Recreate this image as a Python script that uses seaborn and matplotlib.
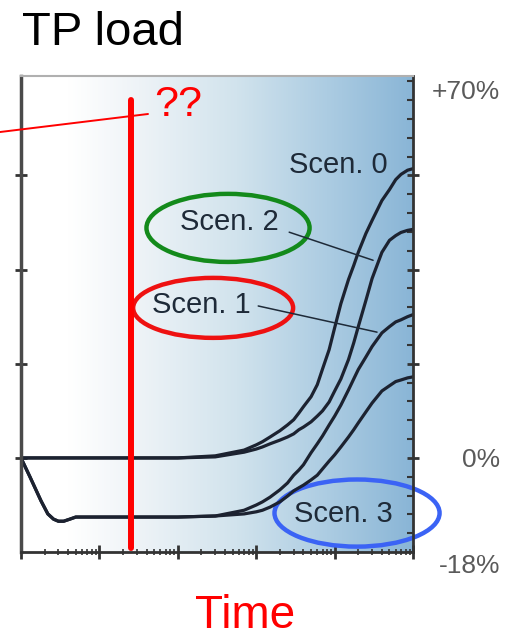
import numpy as np
import pandas as pd
import seaborn as sns
import matplotlib.pyplot as plt
from matplotlib.patches import Ellipse
from matplotlib.lines import Line2D
from matplotlib.colors import LinearSegmentedColormap
from matplotlib.ticker import LogLocator, MultipleLocator, NullFormatter

sns.set_style("ticks")
plt.rcParams['font.family'] = ['Liberation Sans', 'DejaVu Sans']

# time axis is logarithmic (5 decades), load in % change
time = [1, 1.3, 1.8, 2.2, 2.6, 3.0, 3.5, 4.2, 5, 10, 100, 300, 700, 1000, 1200, 1500,
        2000, 2500, 3000, 3500, 4000, 5000, 6000, 7000, 8500, 10000, 12000, 15000,
        17500, 20000, 25000, 30000, 40000, 50000, 60000, 70000, 85000, 100000]
scen0 = [0, 0, 0, 0, 0, 0, 0, 0, 0, 0, 0, 0.4, 1.5, 2.5, 3.1, 4.0,
         5.2, 6.3, 7.3, 8.6, 9.8, 11.7, 14.0, 17.0, 20.7, 24.9, 29.5, 34.1,
         36.8, 39.3, 42.9, 45.4, 49.2, 51.3, 53.2, 54.2, 55.0, 55.3]
scen2 = [0, 0, 0, 0, 0, 0, 0, 0, 0, 0, 0, 0.2, 1.1, 1.7, 2.1, 2.7,
         3.4, 4.0, 4.6, 5.4, 5.9, 6.9, 8.0, 9.0, 10.7, 12.8, 15.1, 18.8,
         22.0, 25.1, 30.1, 34.3, 39.3, 41.6, 42.5, 43.1, 43.5, 43.7]
scen1 = [0, -3.6, -8.2, -10.7, -11.7, -12.1, -12.1, -11.7, -11.3, -11.3, -11.3, -11.1, -10.0, -9.0, -8.4, -7.5,
         -6.1, -4.8, -3.3, -2.3, -1.3, 1.0, 2.7, 4.2, 6.3, 8.0, 10.1, 13.0,
         15.1, 16.9, 19.3, 21.3, 23.9, 25.1, 26.0, 26.4, 27.0, 27.4]
scen3 = [0, -3.6, -8.2, -10.7, -11.7, -12.1, -12.1, -11.7, -11.3, -11.3, -11.3, -11.1, -10.7, -10.3, -10.0, -9.4,
         -8.4, -7.3, -6.3, -5.7, -5.2, -4.2, -3.3, -2.1, -0.6, 0.6, 2.1, 4.0,
         5.4, 6.7, 8.8, 10.5, 12.8, 13.8, 14.6, 14.9, 15.3, 15.5]
scen_names = ["Scen. 0", "Scen. 1", "Scen. 2", "Scen. 3"]
y_labels = ["+70%", "0%", "-18%"]

df = pd.DataFrame({
    "time": time * 4,
    "load": scen0 + scen1 + scen2 + scen3,
    "scen": np.repeat(scen_names, len(time)),
})

fig = plt.figure(figsize=(5.18, 6.39), dpi=100)
rect = [0.0405, 0.136, 0.757, 0.745]

# background gradient (white -> blue)
bg_ax = fig.add_axes(rect, zorder=0)
bg = LinearSegmentedColormap.from_list(
    "bg", [(0, "#ffffff"), (0.12, "#ffffff"), (0.3, "#eef3f7"),
           (0.55, "#d1e3ed"), (0.78, "#accce2"), (1, "#89b5d6")])
bg_ax.imshow(np.linspace(0, 1, 256)[None, :], cmap=bg, aspect="auto", extent=[0, 1, 0, 1])
bg_ax.axis("off")

ax = fig.add_axes(rect, zorder=1)
ax.patch.set_alpha(0)
sns.lineplot(data=df, x="time", y="load", units="scen", estimator=None,
             color="#1c2230", lw=2.3, ax=ax, legend=False)
ax.set_xscale("log")
ax.set_xlim(1, 1e5)
ax.set_ylim(-18, 73)
ax.set_xlabel("")
ax.set_ylabel("")

ax.set_xticks([1, 10, 100, 1000, 1e4, 1e5])
ax.xaxis.set_minor_locator(LogLocator(base=10, subs=range(2, 10)))
ax.xaxis.set_major_formatter(NullFormatter())
ax.xaxis.set_minor_formatter(NullFormatter())
ax.tick_params(axis="x", which="major", direction="inout", length=10, width=2, color="#333333")
ax.tick_params(axis="x", which="minor", direction="inout", length=5, width=1.2, color="#333333")

ax.set_yticks([0, 18, 36, 54])
ax.yaxis.set_major_formatter(NullFormatter())
ax.yaxis.set_minor_locator(MultipleLocator(3.6))
ax.tick_params(axis="y", which="major", direction="inout", length=9, width=2,
               left=True, right=True, color="#333333")
ax.tick_params(axis="y", which="minor", direction="in", length=4, width=1.5,
               left=False, right=True, color="#333333")

ax.spines["top"].set_color("#b0b0b0")
ax.spines["top"].set_linewidth(1.5)
ax.spines["left"].set_color("#4a4a4a")
ax.spines["left"].set_linewidth(2.5)
for s in ["right", "bottom"]:
    ax.spines[s].set_color("#333333")
    ax.spines[s].set_linewidth(2)

# right side labels
for lab, fy in zip(y_labels, [0.966, 0.193, -0.029]):
    ax.text(1.222, fy, lab, transform=ax.transAxes, ha="right", va="center",
            fontsize=19, color="#5a5a5a", clip_on=False)

# scenario labels
txt_kw = dict(transform=ax.transAxes, ha="center", va="center", fontsize=21, color="#1e2a38")
ax.text(0.809, 0.813, scen_names[0], **txt_kw)
ax.text(0.459, 0.519, scen_names[1], **txt_kw)
ax.text(0.531, 0.693, scen_names[2], **txt_kw)
ax.text(0.821, 0.080, scen_names[3], **txt_kw)

# leader lines
ax.plot([0.684, 0.898], [0.672, 0.613], transform=ax.transAxes, color="#1e2a38", lw=1.1)
ax.plot([0.605, 0.908], [0.517, 0.462], transform=ax.transAxes, color="#1e2a38", lw=1.1)

# highlight ellipses
ax.add_patch(Ellipse((0.528, 0.681), 0.416, 0.143, transform=ax.transAxes,
                     fill=False, ec="#138a1b", lw=3.2, clip_on=False))
ax.add_patch(Ellipse((0.490, 0.513), 0.408, 0.126, transform=ax.transAxes,
                     fill=False, ec="#ee1111", lw=3.2, clip_on=False))
ax.add_patch(Ellipse((0.857, 0.082), 0.421, 0.141, transform=ax.transAxes,
                     fill=False, ec="#3b63f5", lw=3.2, clip_on=False))

# red marker line and question
ax.axvline(25.5, ymin=0.008, ymax=0.95, color="#ff0000", lw=4.3)
fig.add_artist(Line2D([0, 0.2857], [0.7934, 0.8216], transform=fig.transFigure,
                      color="#ff0000", lw=1.4))
fig.text(0.3436, 0.8357, "??", ha="center", va="center", fontsize=31, color="#ff0000")

fig.text(0.0425, 0.9296, "TP load", ha="left", va="baseline", fontsize=34, color="black")
fig.text(0.473, 0.001, "Time", ha="center", va="bottom", fontsize=33, color="#ff0000")

fig.savefig("out.png", dpi=100)
